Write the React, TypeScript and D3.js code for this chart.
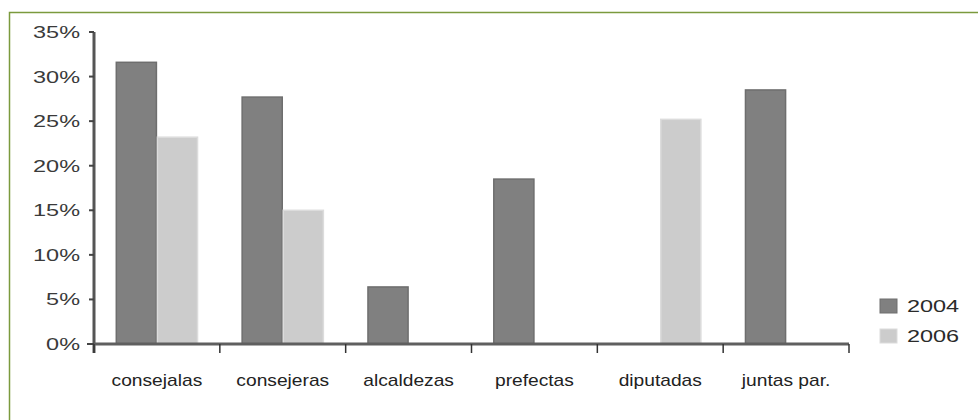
import React from "react";
import * as d3 from "d3";

const categories = ["consejalas", "consejeras", "alcaldezas", "prefectas", "diputadas", "juntas par."];
const years = ["2004", "2006"];
const values2004: (number | null)[] = [31.6, 27.7, 6.4, 18.5, null, 28.5];
const values2006: (number | null)[] = [23.2, 15.0, null, null, 25.2, null];
const yTickValues = [0, 5, 10, 15, 20, 25, 30, 35];

const seriesValues: Record<string, (number | null)[]> = { "2004": values2004, "2006": values2006 };
const fills: Record<string, string> = { "2004": "#808080", "2006": "#cccccc" };
const strokes: Record<string, string> = { "2004": "#6e6e6e", "2006": "#dcdcdc" };

const W = 978;
const H = 420;
const FONT = "'Liberation Sans', Arial, sans-serif";

export default function App() {
  const x0 = d3.scaleBand<string>().domain(categories).range([94, 849]).paddingInner(0).paddingOuter(0);
  const x1 = d3
    .scaleBand<string>()
    .domain(years)
    .range([0, x0.bandwidth()])
    .paddingInner(0)
    .paddingOuter(0.53);
  const y = d3.scaleLinear().domain([0, 35]).range([344, 32]);
  const pct = (v: number) => `${v}%`;

  const boundaries = [...categories.map((c) => x0(c)!), x0.range()[1]];

  return (
    <svg
      width={W}
      height={H}
      style={{ position: "absolute", left: 0, top: 0, display: "block", background: "#fff" }}
      fontFamily={FONT}
    >
      {/* frame */}
      <path d={`M9.5,${H} V12.5 H${W}`} fill="none" stroke="#7b9a3d" strokeWidth={1.5} />

      {/* bars */}
      {categories.map((c, i) => (
        <g key={c} transform={`translate(${x0(c)},0)`}>
          {years.map((yr) => {
            const v = seriesValues[yr][i];
            if (v == null) return null;
            return (
              <rect
                key={yr}
                x={x1(yr)! + 0.5}
                y={y(v)}
                width={x1.bandwidth() - 1}
                height={y(0) - y(v)}
                fill={fills[yr]}
                stroke={strokes[yr]}
                strokeWidth={1.5}
              />
            );
          })}
        </g>
      ))}

      {/* y axis */}
      <line x1={94} x2={94} y1={y(35)} y2={353} stroke="#555" strokeWidth={3} />
      {yTickValues.map((t) => (
        <g key={t}>
          <line x1={t === 0 ? 87 : 89} x2={94} y1={y(t)} y2={y(t)} stroke="#444" strokeWidth={2} />
          <text
            transform={`translate(80,${y(t) + 6}) scale(1.38,1)`}
            textAnchor="end"
            fontSize={17}
            fill="#3a3a3a"
          >
            {pct(t)}
          </text>
        </g>
      ))}

      {/* x axis */}
      <line x1={94} x2={x0.range()[1]} y1={y(0)} y2={y(0)} stroke="#5f5f5f" strokeWidth={3} />
      {boundaries.map((bx, i) => (
        <line key={i} x1={bx} x2={bx} y1={y(0)} y2={353} stroke="#333" strokeWidth={1.5} />
      ))}
      {categories.map((c) => (
        <text
          key={c}
          transform={`translate(${x0(c)! + x0.bandwidth() / 2},386) scale(1.2,1)`}
          textAnchor="middle"
          fontSize={16}
          fill="#222"
        >
          {c}
        </text>
      ))}

      {/* legend */}
      {years.map((yr, i) => (
        <g key={yr} transform={`translate(880,${299 + i * 30})`}>
          <rect x={0} y={0} width={17} height={14} fill={fills[yr]} stroke={strokes[yr]} strokeWidth={1} />
          <text transform={`translate(27,13) scale(1.38,1)`} fontSize={17} fill="#2a2a2a">
            {yr}
          </text>
        </g>
      ))}
    </svg>
  );
}
